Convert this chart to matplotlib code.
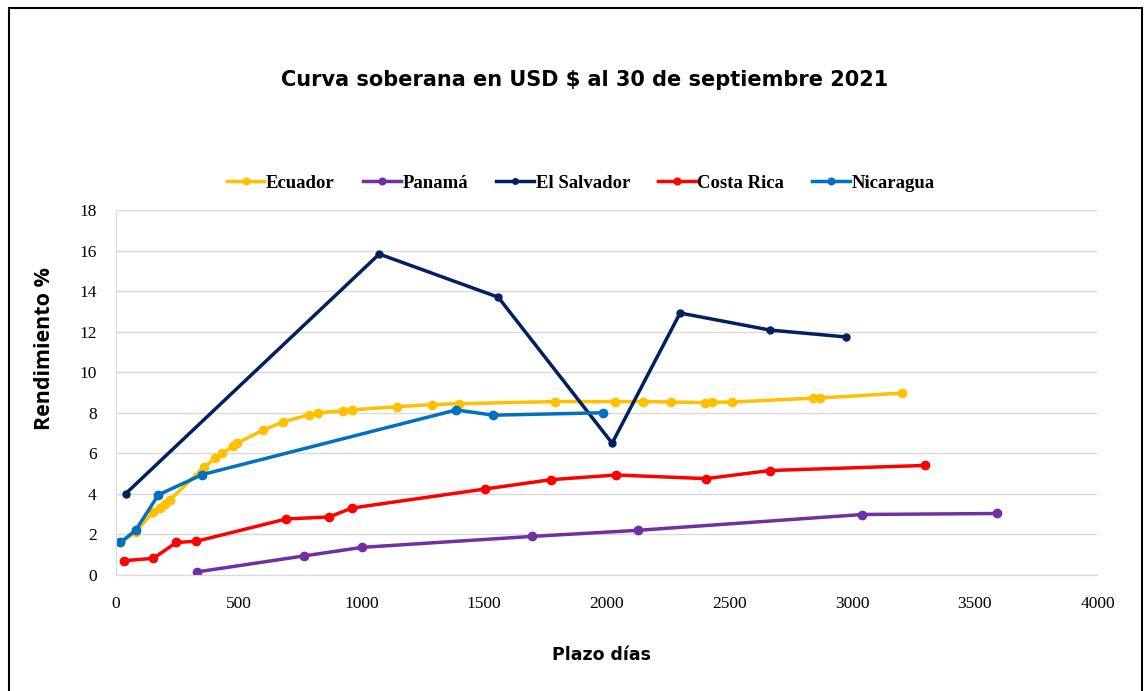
import matplotlib.pyplot as plt
from matplotlib.patches import Rectangle

# Datos (plazo en días, rendimiento %)
ecuador_x = [18, 80, 150, 180, 200, 220, 357, 405, 434, 478, 494, 600, 682, 788, 825,
             927, 962, 1146, 1289, 1399, 1790, 2035, 2149, 2260, 2401, 2430, 2511,
             2841, 2870, 3204]
ecuador_y = [1.6, 2.1, 3.1, 3.3, 3.5, 3.7, 5.3, 5.77, 6.0, 6.36, 6.5, 7.15, 7.55, 7.9, 8.0,
             8.1, 8.14, 8.3, 8.4, 8.45, 8.55, 8.55, 8.55, 8.53, 8.5, 8.52, 8.53,
             8.72, 8.73, 8.97]

panama_x = [332, 768, 1004, 1696, 2128, 3041, 3591]
panama_y = [0.15, 0.94, 1.36, 1.9, 2.2, 2.98, 3.03]

salvador_x = [39, 1073, 1558, 2022, 2299, 2665, 2975]
salvador_y = [4.0, 15.83, 13.7, 6.5, 12.92, 12.08, 11.74]

costa_x = [34, 153, 246, 328, 694, 869, 962, 1505, 1774, 2039, 2405, 2665, 3297]
costa_y = [0.7, 0.82, 1.6, 1.66, 2.76, 2.86, 3.3, 4.24, 4.7, 4.93, 4.75, 5.15, 5.4]

nicaragua_x = [18, 80, 173, 352, 1387, 1538, 1986]
nicaragua_y = [1.6, 2.2, 3.95, 4.95, 8.14, 7.88, 8.0]

series = [
    ("Ecuador", ecuador_x, ecuador_y, "#FFC000", 6),
    ("Panamá", panama_x, panama_y, "#7030A0", 6),
    ("El Salvador", salvador_x, salvador_y, "#002060", 5),
    ("Costa Rica", costa_x, costa_y, "#FF0000", 6),
    ("Nicaragua", nicaragua_x, nicaragua_y, "#0070C0", 6),
]

fig = plt.figure(figsize=(11.48, 6.91), dpi=100)
ax = fig.add_axes([0.101, 0.168, 0.855, 0.528])

for nombre, xs, ys, color, ms in series:
    ax.plot(xs, ys, color=color, lw=2.5, marker="o", ms=ms, label=nombre)

ax.set_xlim(0, 4000)
ax.set_ylim(0, 18)
ax.set_xticks(range(0, 4001, 500))
ax.set_yticks(range(0, 19, 2))
ax.grid(axis="y", color="#d9d9d9", lw=1)
ax.set_axisbelow(True)
for s in ["top", "right"]:
    ax.spines[s].set_visible(False)
ax.spines["left"].set_color("#d9d9d9")
ax.spines["bottom"].set_color("#d9d9d9")
ax.tick_params(length=0, labelsize=12.5)
ax.tick_params(axis="x", pad=15)
ax.tick_params(axis="y", pad=14)
for lab in ax.get_xticklabels() + ax.get_yticklabels():
    lab.set_family("Liberation Serif")

fig.text(0.509, 0.884, "Curva soberana en USD $ al 30 de septiembre 2021",
         ha="center", va="center", fontsize=15, fontweight="bold", family="DejaVu Sans")
fig.text(0.524, 0.052, "Plazo días", ha="center", va="center",
         fontsize=12.5, fontweight="bold", family="DejaVu Sans")
fig.text(0.039, 0.496, "Rendimiento %", ha="center", va="center", rotation=90,
         fontsize=15.5, fontweight="bold", family="Open Sans")

fig.legend(loc="center", bbox_to_anchor=(0.506, 0.735), ncol=5, frameon=False,
           prop={"family": "Liberation Serif", "weight": "bold", "size": 13.5},
           handlelength=2.0, handletextpad=0.1, columnspacing=1.5, markerscale=0.8)

fig.add_artist(Rectangle((0.008, -0.01), 0.987, 0.999, transform=fig.transFigure,
                         fill=False, ec="black", lw=1.5))

fig.savefig("out.png", dpi=100)
